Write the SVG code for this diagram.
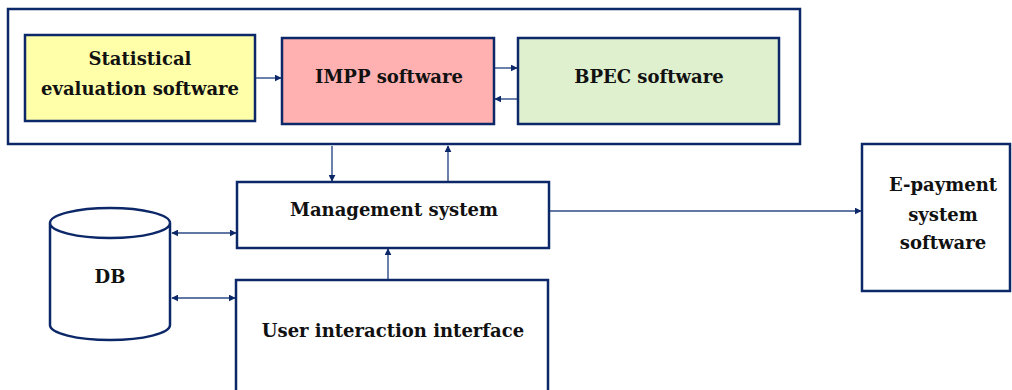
<svg xmlns="http://www.w3.org/2000/svg" width="1012" height="390" viewBox="0 0 1012 390">
<defs>
<style>
.box{stroke:#0c2868;stroke-width:2.5}
.txt{font-family:"DejaVu Serif","Liberation Serif",serif;font-weight:bold;font-size:18px;fill:#111;text-anchor:middle}
.ln{stroke:#2c4a86;stroke-width:1.4;fill:none}
</style>
<marker id="ah" viewBox="0 0 10 10" refX="9" refY="5" markerWidth="7" markerHeight="7" orient="auto-start-reverse" markerUnits="userSpaceOnUse">
<path d="M0,0 L10,5 L0,10 z" fill="#0c2868"/>
</marker>
</defs>
<rect x="0" y="0" width="1012" height="390" fill="#fff"/>
<g id="container"><rect class="box" x="8" y="9" width="792" height="135" fill="#fff" stroke-width="3"/></g>
<g id="statistical"><rect class="box" x="25" y="35" width="230" height="86" fill="#ffffaa"/><text class="txt" x="140" y="65">Statistical</text><text class="txt" x="140" y="95">evaluation software</text></g>
<g id="impp"><rect class="box" x="282" y="38" width="212" height="86" fill="#ffb0b0"/><text class="txt" x="389" y="83">IMPP software</text></g>
<g id="bpec"><rect class="box" x="518" y="38" width="261" height="86" fill="#dff0cf"/><text class="txt" x="649" y="83">BPEC software</text></g>
<g id="management"><rect class="box" x="237" y="182" width="312" height="66" fill="#fff"/><text class="txt" x="394" y="216">Management system</text></g>
<g id="db"><path class="box" fill="#fff" d="M50,223 L50,325 A60,15 0 0 0 170,325 L170,223 A60,15 0 0 0 50,223 A60,15 0 0 0 170,223"/><text class="txt" x="110" y="283">DB</text></g>
<g id="user"><path class="box" fill="#fff" d="M236,392 L236,280 L548,280 L548,392"/><text class="txt" x="393" y="337">User interaction interface</text></g>
<g id="epayment"><rect class="box" x="862" y="144" width="148" height="147" fill="#fff"/><text class="txt" x="943" y="191">E-payment</text><text class="txt" x="943" y="221">system</text><text class="txt" x="943" y="249">software</text></g>
<g id="connectors">
<line class="ln" x1="256" y1="78" x2="281" y2="78" marker-end="url(#ah)"/>
<line class="ln" x1="495" y1="68" x2="517" y2="68" marker-end="url(#ah)"/>
<line class="ln" x1="517" y1="99" x2="495" y2="99" marker-end="url(#ah)"/>
<line class="ln" x1="332" y1="146" x2="332" y2="181" marker-end="url(#ah)"/>
<line class="ln" x1="448" y1="181" x2="448" y2="146" marker-end="url(#ah)"/>
<line class="ln" x1="172" y1="233" x2="236" y2="233" marker-start="url(#ah)" marker-end="url(#ah)"/>
<line class="ln" x1="172" y1="298" x2="235" y2="298" marker-start="url(#ah)" marker-end="url(#ah)"/>
<line class="ln" x1="388" y1="279" x2="388" y2="249" marker-end="url(#ah)"/>
<line class="ln" x1="550" y1="211" x2="861" y2="211" marker-end="url(#ah)"/>
</g>
</svg>
